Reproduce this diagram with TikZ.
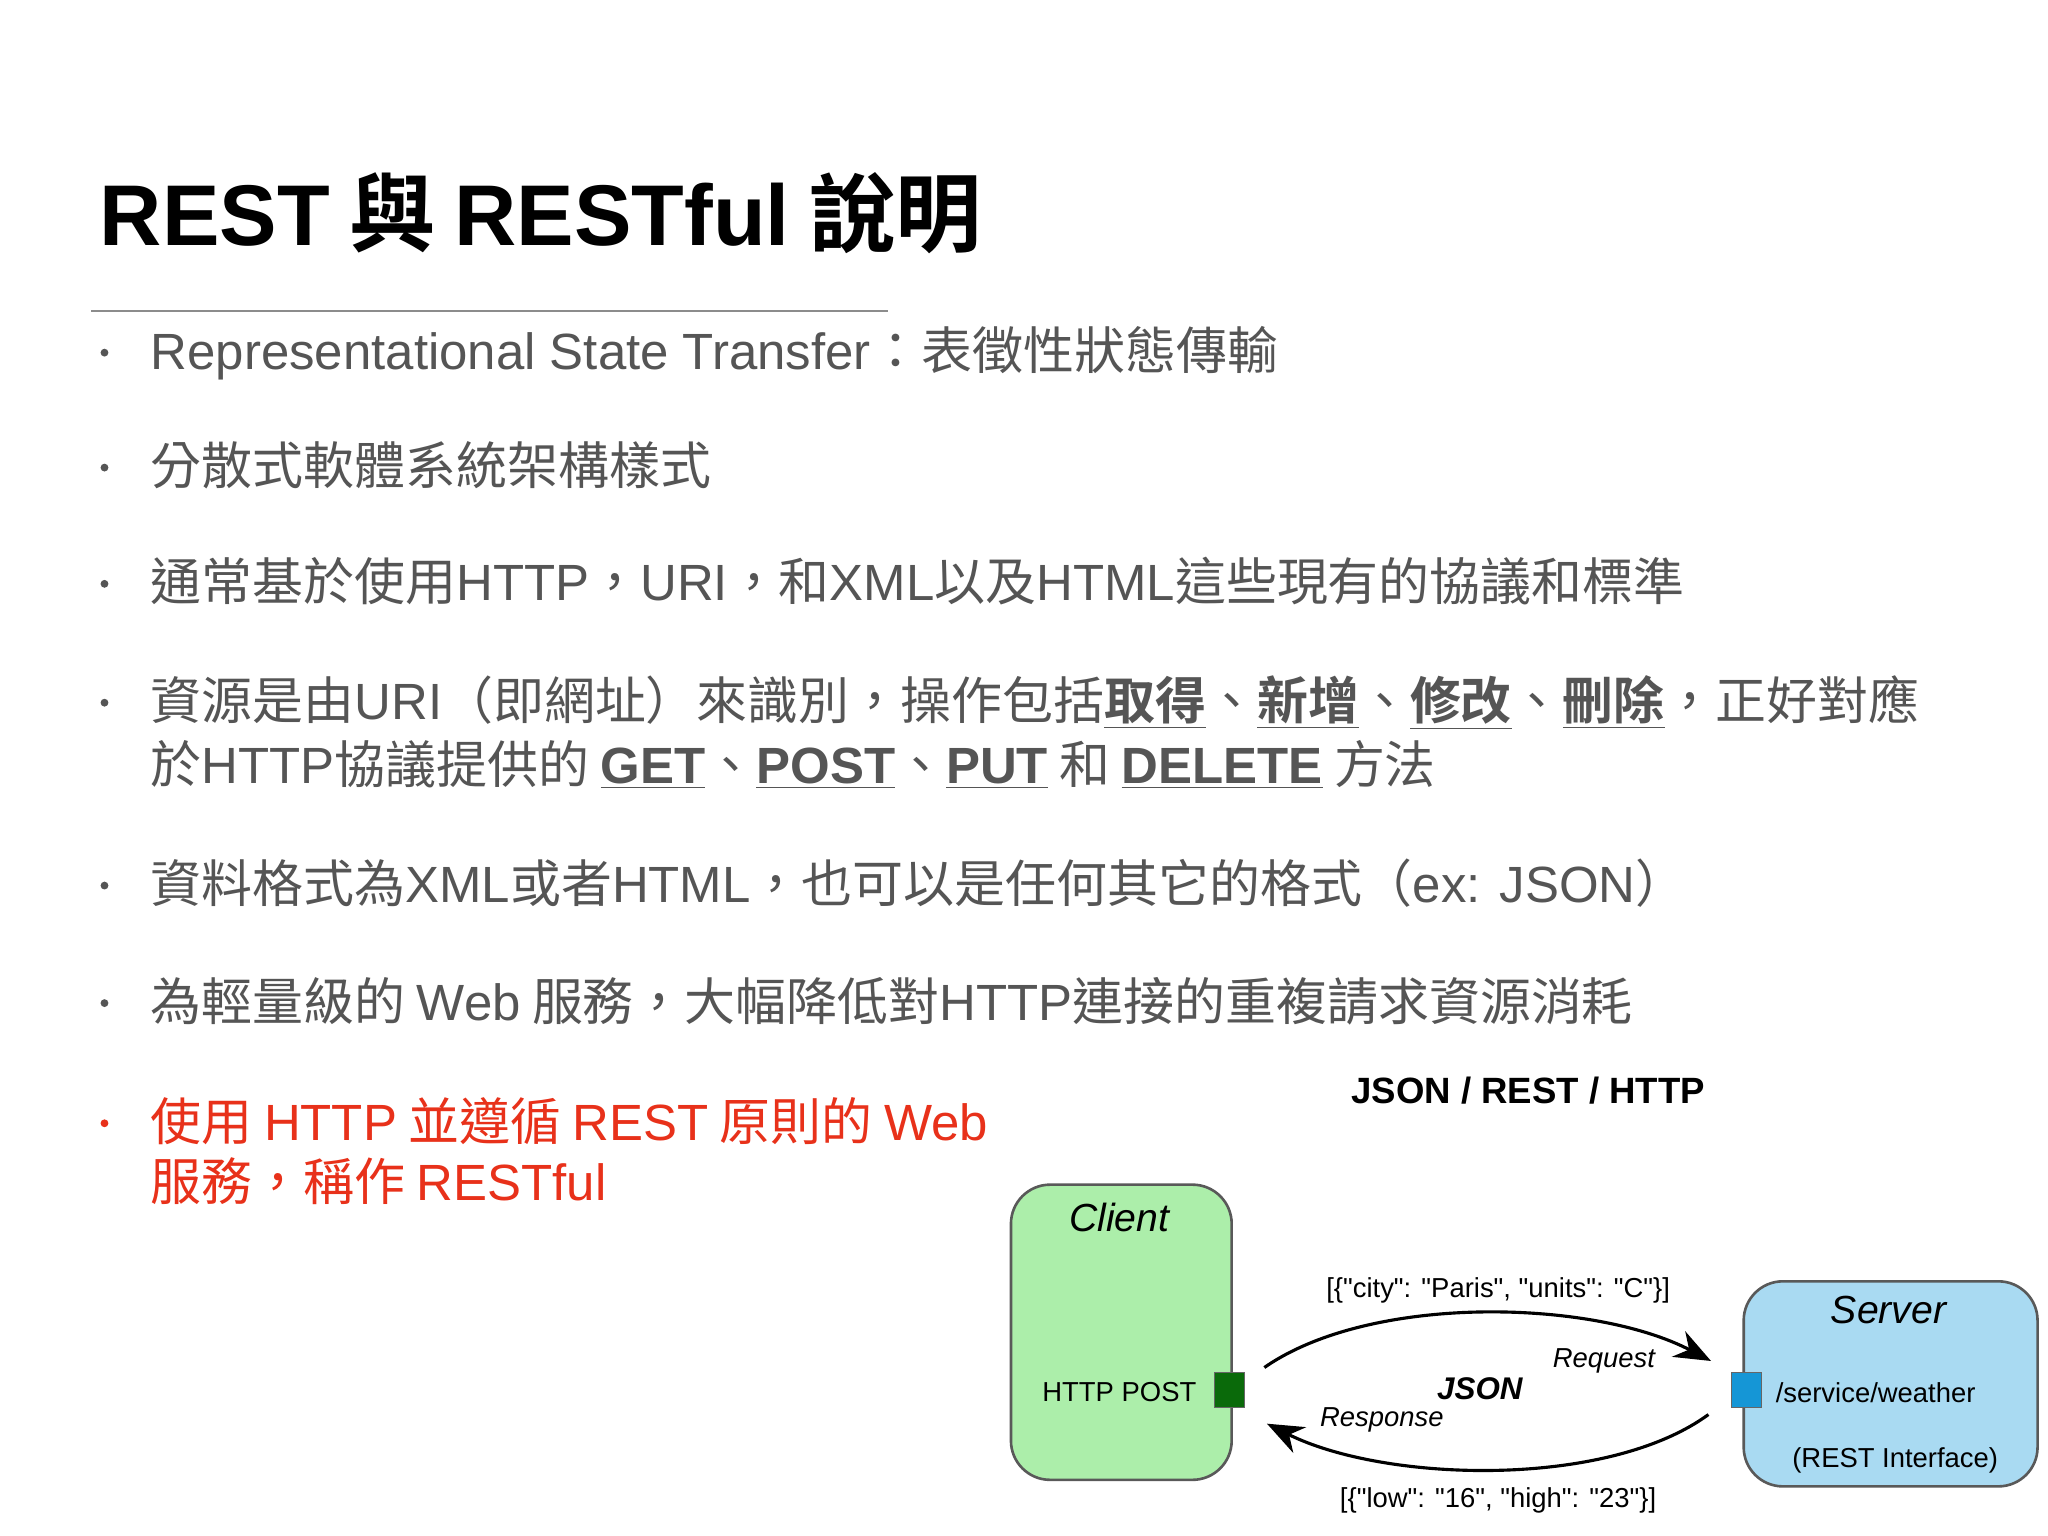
\documentclass[tikz,border=0pt]{standalone}
\usepackage{fontspec}
\setmainfont{Noto Sans CJK TC}
\newfontfamily\lat{Liberation Sans}
\newfontfamily\cjkb{Noto Sans CJK TC Bold}
\usetikzlibrary{arrows.meta}
\definecolor{bodygray}{HTML}{555555}
\definecolor{redtxt}{HTML}{E8311A}
\definecolor{cgreen}{HTML}{ACEEAA}
\definecolor{sblue}{HTML}{A9DAF2}
\definecolor{dgreen}{HTML}{0A6A0A}
\definecolor{pblue}{HTML}{1596D6}
\newcommand{\La}[1]{{\lat #1}}
\newcommand{\ub}[1]{\underline{{\lat\bfseries #1}}}
\newcommand{\uc}[1]{\underline{{\cjkb #1}}}
\tikzset{
  body/.style={anchor=base west, inner sep=0pt, text=bodygray, font=\fontsize{19.5pt}{25pt}\selectfont},
  dot/.style={circle, fill=bodygray, inner sep=0pt, minimum size=3pt},
  box/.style={draw=black!65, line width=1pt, rounded corners=15pt},
  lbl/.style={inner sep=0pt, font=\lat\fontsize{10.5pt}{13pt}\selectfont},
  arc/.style={line width=1.2pt, -{Stealth[length=14pt,width=11pt]}}
}
\begin{document}
\begin{tikzpicture}[x=0.5pt,y=-0.5pt]
\useasboundingbox (0,0) rectangle (1568,1176);
\fill[white] (0,0) rectangle (1568,1176);
% title
\node[anchor=base west, inner sep=0pt, font=\fontsize{33pt}{36pt}\selectfont] (title) at (76,188)
  {{\lat\bfseries REST} {\cjkb 與} {\lat\bfseries RESTful} {\cjkb 說明}};
\draw[black!45, line width=0.8pt] (70,238) -- (680,238);
% bullets
\foreach \y/\n in {270/b1,358/b2,447/b3,538/b4,678/b5,768/b6}
  \node[dot] (\n) at (80,\y) {};
\node[dot, fill=redtxt] (b7) at (80,860) {};
\node[body] (t1) at (115,283) {\La{Representational State Transfer}：表徵性狀態傳輸};
\node[body] (t2) at (115,371) {分散式軟體系統架構樣式};
\node[body] (t3) at (115,460) {通常基於使用\La{HTTP}，\La{URI}，和\La{XML}以及\La{HTML}這些現有的協議和標準};
\node[body] (t4) at (115,551) {資源是由\La{URI}（即網址）來識別，操作包括\uc{取得}、\uc{新增}、\uc{修改}、\uc{刪除}，正好對應};
\node[body] (t4b) at (115,600) {於\La{HTTP}協議提供的 \ub{GET}、\ub{POST}、\ub{PUT} 和 \ub{DELETE} 方法};
\node[body] (t5) at (115,691) {資料格式為\La{XML}或者\La{HTML}，也可以是任何其它的格式（\La{ex: JSON}）};
\node[body] (t6) at (115,781) {為輕量級的 \La{Web} 服務，大幅降低對\La{HTTP}連接的重複請求資源消耗};
\node[body, text=redtxt] (t7) at (115,873) {使用 \La{HTTP} 並遵循 \La{REST} 原則的 \La{Web}};
\node[body, text=redtxt] (t7b) at (115,919) {服務，稱作 \La{RESTful}};
% diagram
\node[inner sep=0pt, font=\lat\bfseries\fontsize{14pt}{16pt}\selectfont] (dtitle) at (1170,835) {JSON / REST / HTTP};
\draw[box, fill=cgreen] (774,907) rectangle (943,1133);
\draw[box, fill=sblue] (1335,981) rectangle (1560,1138);
\node[lbl, font=\lat\itshape\fontsize{15pt}{18pt}\selectfont] (client) at (857,932) {Client};
\node[lbl] (post) at (857,1066) {HTTP POST};
\node[draw=black!60, fill=dgreen, minimum width=11.5pt, minimum height=13.5pt, inner sep=0pt] (gport) at (941,1064) {};
\node[lbl, font=\lat\itshape\fontsize{15pt}{18pt}\selectfont] (server) at (1446,1003) {Server};
\node[lbl] (svc) at (1436,1066) {/service/weather};
\node[lbl] (iface) at (1451,1118) {(REST Interface)};
\node[draw=black!60, fill=pblue, minimum width=11.5pt, minimum height=13.5pt, inner sep=0pt] (bport) at (1337,1064) {};
\coordinate (rq1) at (968,1047);
\coordinate (rq2) at (1310,1042);
\coordinate (rs1) at (1308,1083);
\coordinate (rs2) at (970,1090);
\draw[arc] (rq1) .. controls (1050,990) and (1220,995) .. (rq2);
\draw[arc] (rs1) .. controls (1230,1140) and (1060,1135) .. (rs2);
\node[lbl] (reqd) at (1147,988) {[\{"city": "Paris", "units": "C"\}]};
\node[lbl, font=\lat\itshape\fontsize{10.5pt}{13pt}\selectfont] (req) at (1228,1042) {Request};
\node[lbl, font=\lat\bfseries\itshape\fontsize{12pt}{15pt}\selectfont] (json) at (1133,1063) {JSON};
\node[lbl, font=\lat\itshape\fontsize{10.5pt}{13pt}\selectfont] (resp) at (1058,1087) {Response};
\node[lbl] (resd) at (1147,1149) {[\{"low": "16", "high": "23"\}]};
\end{tikzpicture}
\end{document}
